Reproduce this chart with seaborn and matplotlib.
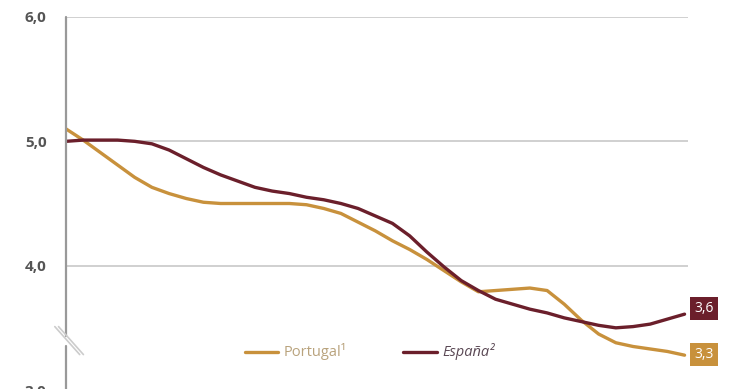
import numpy as np
import pandas as pd
import seaborn as sns
import matplotlib.pyplot as plt

sns.set_theme(style="white")
plt.rcParams["font.family"] = ["Open Sans", "DejaVu Sans"]

# values (evenly spaced periods)
periods = list(range(37))
portugal = [5.10, 5.01, 4.91, 4.81, 4.71, 4.63, 4.58, 4.54, 4.51, 4.50,
            4.50, 4.50, 4.50, 4.50, 4.49, 4.46, 4.42, 4.35, 4.28, 4.20,
            4.13, 4.05, 3.96, 3.87, 3.79, 3.80, 3.81, 3.82, 3.80, 3.69,
            3.56, 3.45, 3.38, 3.35, 3.33, 3.31, 3.28]
espana = [5.00, 5.01, 5.01, 5.01, 5.00, 4.98, 4.93, 4.86, 4.79, 4.73,
          4.68, 4.63, 4.60, 4.58, 4.55, 4.53, 4.50, 4.46, 4.40, 4.34,
          4.24, 4.11, 3.99, 3.88, 3.80, 3.73, 3.69, 3.65, 3.62, 3.58,
          3.55, 3.52, 3.50, 3.51, 3.53, 3.57, 3.61]
y_ticks = [3.0, 4.0, 5.0, 6.0]
y_labels = ["3,0", "4,0", "5,0", "6,0"]
end_labels = ["3,6", "3,3"]

c_pt = "#c8913c"
c_es = "#6b1f2b"

df = pd.DataFrame({"period": periods, "Portugal": portugal, "España": espana})
long = df.melt("period", var_name="pais", value_name="valor")

fig = plt.figure(figsize=(7.4, 3.89), dpi=100)
ax = fig.add_axes([66 / 740, (389 - 390) / 389, 622 / 740, 373 / 389])

sns.lineplot(data=long, x="period", y="valor", hue="pais",
             palette={"Portugal": c_pt, "España": c_es},
             linewidth=2.4, ax=ax, legend=False,
             solid_joinstyle="round", solid_capstyle="round")

ax.set_xlim(0, 36.2)
ax.set_ylim(3.0, 6.0)
ax.set_yticks(y_ticks)
ax.set_yticklabels(y_labels, fontsize=11, fontweight="bold", color="#555555")
ax.set_xticks([])
ax.set_xlabel("")
ax.set_ylabel("")
ax.tick_params(axis="y", length=0, pad=14)
for t in y_ticks:
    ax.axhline(t, color="#c8c8c8", linewidth=1.2, zorder=0)
for s in ax.spines.values():
    s.set_visible(False)

# y axis with a break
tr = ax.transAxes
ax.plot([0, 0], [1, 0.145], transform=tr, color="#999999", lw=1.6, clip_on=False)
ax.plot([0, 0], [0.118, 0], transform=tr, color="#999999", lw=1.6, clip_on=False)
for dx in (0.0, 0.006):
    ax.plot([-0.018 + dx, 0.022 + dx], [0.17, 0.095], transform=tr,
            color="#cccccc", lw=1.2, clip_on=False)

# end value boxes
ax.text(37.15, 3.655, end_labels[0], color="white", fontsize=10, ha="center", va="center",
        bbox=dict(boxstyle="square,pad=0.3", fc=c_es, ec="none"), clip_on=False)
ax.text(37.15, 3.285, end_labels[1], color="white", fontsize=10, ha="center", va="center",
        bbox=dict(boxstyle="square,pad=0.3", fc=c_pt, ec="none"), clip_on=False)

# legend drawn as text
fy = 1 - 352 / 389
fig.add_artist(plt.Line2D([245 / 740, 278 / 740], [fy, fy], color=c_pt, lw=2.4))
fig.text(284 / 740, fy, "Portugal¹", color="#b9a37d", fontsize=10.5, va="center")
fig.add_artist(plt.Line2D([403 / 740, 437 / 740], [fy, fy], color=c_es, lw=2.4))
fig.text(442 / 740, fy, "España²", color="#5a4854", fontsize=10.5, va="center",
         style="italic")

fig.savefig("out.png", dpi=100)
